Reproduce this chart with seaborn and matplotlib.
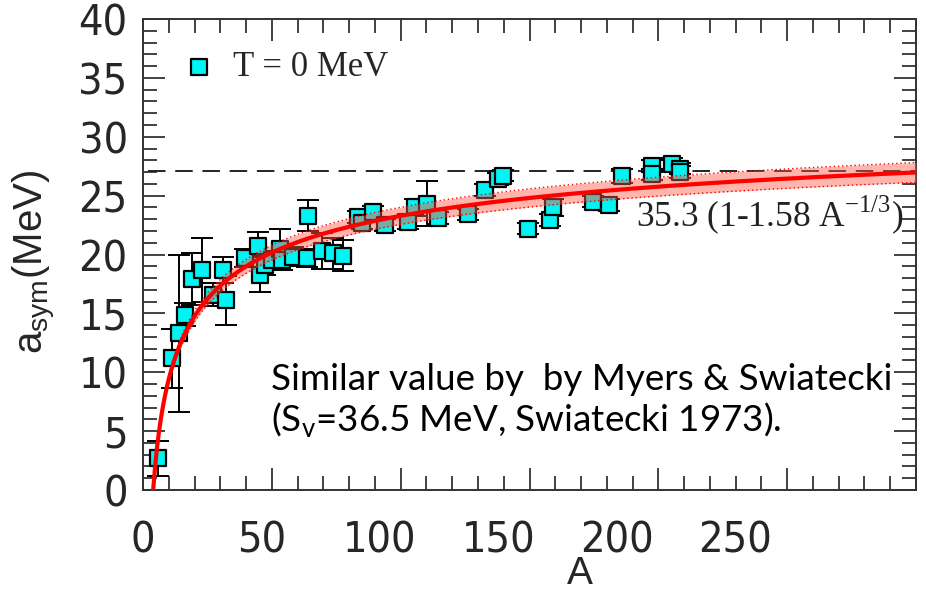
import numpy as np
import pandas as pd
import matplotlib
matplotlib.use("Agg")
import matplotlib.pyplot as plt
import seaborn as sns
from matplotlib.ticker import MultipleLocator, FixedLocator
from matplotlib import font_manager
from matplotlib.font_manager import FontProperties

# ---------------- data ----------------
A_vals = [5.9, 11.1, 14.1, 16.3, 18.9, 22.8, 27.3, 31.2, 32.2, 39.6,
          44.7, 45.4, 47.3, 49.9, 53.2, 53.8, 58.3, 63.5, 64.2, 69.3,
          73.8, 77.7, 83.5, 85.0, 89.4, 93.9, 103.0, 105.5, 110.1, 114.6,
          126.2, 132.7, 137.9, 139.8, 149.5, 157.9, 159.2, 174.7, 181.0, 185.8,
          197.4, 197.4, 205.2, 208.4, 208.4]
asym_vals = [2.7, 11.2, 13.3, 14.9, 17.9, 18.7, 16.6, 18.7, 16.1, 19.7,
             20.7, 18.3, 19.1, 19.5, 20.5, 19.5, 19.8, 19.7, 23.3, 20.3,
             20.1, 19.9, 23.2, 22.7, 23.6, 22.5, 22.8, 24.0, 24.3, 23.1,
             23.4, 25.5, 26.4, 26.7, 22.2, 22.9, 24.0, 24.5, 24.2, 26.7,
             27.5, 26.8, 27.7, 27.3, 27.0]
asym_err = [1.5, 2.5, 6.7, 1.0, 2.2, 2.7, 1.0, 1.1, 2.1, 0.8,
            1.2, 1.5, 0.8, 0.8, 1.7, 0.8, 0.8, 0.8, 1.3, 1.5,
            1.3, 1.3, 0.5, 0.5, 0.5, 0.5, 0.6, 0.7, 1.9, 0.5,
            0.5, 0.5, 0.5, 0.5, 0.5, 0.5, 0.7, 0.5, 0.5, 0.6,
            0.5, 0.5, 0.5, 0.5, 0.5]

fit_av = 35.3          # 35.3 (1 - 1.58 A^-1/3)
fit_c = 1.58
fit_av_lo, fit_av_hi = 34.2, 36.4   # uncertainty band
dash_level = 27.05

x_tick_labels = [0, 50, 100, 150, 200, 250]
y_ticks = [0, 5, 10, 15, 20, 25, 30, 35, 40]

series_label = "T = 0 MeV"
fit_text = r"35.3 (1-1.58 A$^{\mathregular{-1/3}}$)"
note_text = "Similar value by  by Myers & Swiatecki\n(S$_{\\mathregular{v}}$=36.5 MeV, Swiatecki 1973)."

# ---------------- style ----------------
sns.set_theme(style="white")
plt.rcParams["font.family"] = ["Liberation Sans", "DejaVu Sans"]

# look for a narrow sans face for the tick labels
narrow_fp = None
for f in font_manager.fontManager.ttflist:
    fn = f.fname.lower()
    if ("narrow" in fn or "condensed" in fn) and "sans" in fn and "bold" not in fn \
            and "oblique" not in fn and "italic" not in fn:
        narrow_fp = f.fname
        break
if narrow_fp is not None:
    tick_fp = FontProperties(fname=narrow_fp, size=31)
else:
    tick_fp = FontProperties(family="Liberation Sans", size=26)

fig = plt.figure(figsize=(9.26, 5.92), dpi=100)
ax = fig.add_axes([143 / 926, 1 - 490 / 592, 773 / 926, 471 / 592])

df = pd.DataFrame({"A": A_vals, "asym": asym_vals, "err": asym_err})

A_grid = np.linspace(fit_c ** 3, 300, 800)
base = 1 - fit_c * A_grid ** (-1 / 3)
fit_df = pd.DataFrame({"A": A_grid, "fit": fit_av * base,
                       "lo": fit_av_lo * base, "hi": fit_av_hi * base})

# dashed asymptote
ax.plot([2, 300], [dash_level, dash_level], color="#222222", lw=1.4,
        ls=(0, (9, 5)), zorder=1)

# error bars
ax.errorbar(df["A"], df["asym"], yerr=df["err"], fmt="none", ecolor="black",
            elinewidth=1.4, capsize=8, capthick=1.4, zorder=2)

# points
sns.scatterplot(data=df, x="A", y="asym", marker="s", s=140, color="#00f4f4",
                edgecolor="black", linewidth=1.6, ax=ax, zorder=3,
                label=series_label)

# band + fit line
ax.fill_between(fit_df["A"], fit_df["lo"], fit_df["hi"], color="#ff5a48",
                alpha=0.45, lw=0, zorder=4)
sns.lineplot(data=fit_df, x="A", y="lo", color="red", lw=1.0, ls=(0, (1, 2)),
             ax=ax, zorder=5)
sns.lineplot(data=fit_df, x="A", y="hi", color="red", lw=1.0, ls=(0, (1, 2)),
             ax=ax, zorder=5)
sns.lineplot(data=fit_df, x="A", y="fit", color="#ff0000", lw=3.0, ax=ax,
             zorder=6)

ax.set_xlim(0, 300)
ax.set_ylim(0, 40)

# frame & ticks
for sp in ax.spines.values():
    sp.set_visible(True)
    sp.set_color("#333333")
    sp.set_linewidth(1.4)
ax.xaxis.set_major_locator(MultipleLocator(50))
ax.xaxis.set_minor_locator(MultipleLocator(10))
ax.yaxis.set_major_locator(FixedLocator(y_ticks))
ax.yaxis.set_minor_locator(MultipleLocator(1))
ax.tick_params(which="both", direction="in", top=True, right=True,
               bottom=True, left=True, color="#333333", width=1.3)
ax.tick_params(which="major", length=16)
ax.tick_params(which="minor", length=10)
ax.tick_params(axis="x", labelbottom=False)
ax.tick_params(axis="y", pad=11)
ax.set_yticks(y_ticks)
ax.set_yticklabels([str(v) for v in y_ticks], fontproperties=tick_fp)

# tick labels as drawn in the picture (their own spacing)
lab_scale = 0.919
sec = ax.secondary_xaxis("bottom", functions=(lambda x: x / lab_scale,
                                               lambda v: v * lab_scale))
sec.set_xticks(x_tick_labels)
sec.set_xticklabels([str(v) for v in x_tick_labels], fontproperties=tick_fp)
sec.tick_params(length=0, pad=21)
sec.spines["bottom"].set_visible(False)

ax.set_xlabel("A", fontsize=28, fontfamily="Liberation Sans")
ax.xaxis.set_label_coords((580 - 143) / 773, (490 - 556) / 471)
ax.set_ylabel(r"a$_{\mathregular{sym}}$(MeV)", fontsize=29,
              fontfamily="Liberation Sans")
ax.yaxis.set_label_coords((58 - 143) / 773, (490 - 262) / 471)

# legend
leg = ax.legend(loc="center left", bbox_to_anchor=(0.027, 0.896),
                frameon=False, borderpad=0, handlelength=1.0,
                handletextpad=0.5,
                prop={"family": "Liberation Serif", "size": 25})

# annotations
ax.text(191.5, 23.4, fit_text, fontsize=25.5, fontfamily="Liberation Serif",
        color="#222222", ha="left", va="center", zorder=7)
ax.text(49.5, 7.5, note_text, fontsize=26.5, fontfamily="Lato",
        color="black", ha="left", va="center", linespacing=1.15, zorder=7)

fig.savefig("out.png", dpi=100)
